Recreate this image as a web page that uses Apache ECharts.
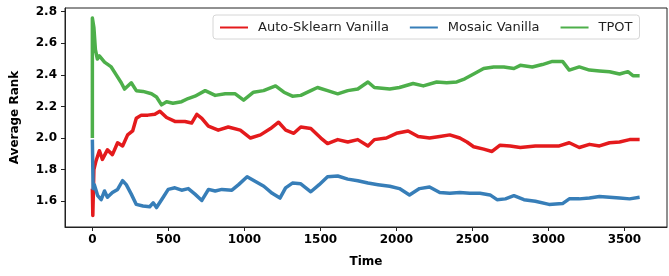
<!DOCTYPE html>
<html lang="en">
<head>
  <meta charset="UTF-8">
  <title>Average Rank over Time</title>
  <script src="https://cdn.jsdelivr.net/npm/echarts@6/dist/echarts.min.js"></script>
  <style>
    html, body { margin: 0; padding: 0; background: #fff; }
  </style>
</head>
<body>
  <div id="chart" style="width:669px;height:276px;"></div>
  <script type="text/javascript">
    var xTicks = [0, 500, 1000, 1500, 2000, 2500, 3000, 3500];
    var yTicks = [1.6, 1.8, 2.0, 2.2, 2.4, 2.6, 2.8];

    var seriesNames = ['Auto-Sklearn Vanilla', 'Mosaic Vanilla', 'TPOT'];

    // Auto-Sklearn Vanilla
    var askTime = [0,3,10,24,46,66,99,132,166,199,232,265,289,322,365,411,444,488,543,609,
      653,687,720,763,828,894,973,1040,1106,1172,1225,1272,1325,1371,1437,1503,1547,1614,1680,1746,
      1813,1855,1934,2000,2077,2143,2218,2285,2351,2417,2464,2508,2574,2629,2682,2748,2815,2914,3004,3071,
      3137,3203,3270,3336,3402,3468,3534,3600];
    var askRank = [1.68,1.51,1.80,1.855,1.92,1.865,1.925,1.895,1.97,1.95,2.02,2.045,2.125,2.145,2.145,2.15,2.17,2.13,2.105,2.105,
      2.095,2.15,2.125,2.075,2.05,2.07,2.05,2.0,2.02,2.06,2.10,2.05,2.03,2.07,2.06,2.0,1.965,1.99,1.975,1.99,
      1.95,1.99,2.0,2.03,2.045,2.01,2.0,2.01,2.02,2.0,1.975,1.945,1.93,1.915,1.955,1.95,1.94,1.95,1.95,1.95,
      1.97,1.94,1.96,1.95,1.97,1.975,1.99,1.99];

    // Mosaic Vanilla
    var mosTime = [0,5,13,35,58,80,99,132,166,199,223,256,289,333,377,400,422,466,499,543,
      587,631,675,720,764,808,852,918,962,1018,1073,1128,1183,1234,1271,1316,1371,1437,1492,1547,
      1614,1680,1746,1813,1879,1956,2020,2086,2152,2218,2285,2351,2417,2483,2550,2616,2662,2717,2773,2839,
      2914,3004,3093,3137,3203,3270,3336,3402,3468,3534,3600];
    var mosRank = [1.99,1.68,1.705,1.635,1.61,1.665,1.625,1.655,1.675,1.73,1.705,1.645,1.58,1.57,1.565,1.59,1.56,1.625,1.675,1.685,
      1.67,1.68,1.645,1.605,1.675,1.665,1.675,1.67,1.705,1.755,1.725,1.695,1.65,1.62,1.685,1.715,1.71,1.66,1.705,1.755,
      1.76,1.74,1.73,1.715,1.705,1.695,1.68,1.64,1.68,1.69,1.655,1.65,1.655,1.65,1.65,1.64,1.61,1.615,1.635,1.61,
      1.60,1.58,1.585,1.615,1.615,1.62,1.63,1.625,1.62,1.615,1.625];

    // TPOT
    var tpotTime = [0,0,10,20,33,46,80,124,157,190,212,256,289,333,389,422,455,488,530,587,
      630,675,742,808,874,940,995,1060,1126,1205,1260,1316,1371,1437,1481,1547,1614,1680,1746,1813,
      1855,1956,2020,2110,2177,2265,2331,2397,2450,2508,2574,2640,2707,2773,2815,2894,2960,3026,3093,3137,
      3203,3270,3336,3402,3468,3523,3556,3600];
    var tpotRank = [2.0,2.76,2.70,2.56,2.50,2.52,2.48,2.45,2.40,2.35,2.31,2.35,2.30,2.295,2.28,2.26,2.21,2.23,2.22,2.23,
      2.25,2.265,2.30,2.27,2.28,2.28,2.24,2.29,2.30,2.33,2.29,2.265,2.27,2.30,2.32,2.30,2.28,2.30,2.31,2.355,
      2.32,2.31,2.32,2.345,2.33,2.355,2.35,2.355,2.375,2.405,2.44,2.45,2.45,2.44,2.46,2.45,2.465,2.485,2.485,2.43,
      2.45,2.43,2.425,2.42,2.405,2.42,2.395,2.395];

    var colors = ['#e41a1c', '#377eb8', '#4daf4a'];

    function pairs(t, v) {
      var out = [];
      for (var i = 0; i < t.length; i++) out.push([t[i], v[i]]);
      return out;
    }

    var seriesData = [pairs(askTime, askRank), pairs(mosTime, mosRank), pairs(tpotTime, tpotRank)];

    var myChart = echarts.init(document.getElementById('chart'), null, { renderer: 'canvas' });

    var font = 'DejaVu Sans';

    var option = {
      animation: false,
      color: colors,
      textStyle: { fontFamily: font },
      grid: {
        left: 65, right: 2, top: 8, bottom: 49,
        show: true, borderColor: '#222', borderWidth: 1, backgroundColor: '#fff'
      },
      legend: {
        data: seriesNames,
        left: 213, top: 15,
        padding: [6, 7, 5, 7],
        itemWidth: 28, itemHeight: 2, itemGap: 21,
        backgroundColor: '#fff',
        borderColor: '#d6d6d6', borderWidth: 1, borderRadius: 3,
        icon: 'rect',
        textStyle: { fontFamily: font, fontSize: 13, color: '#222', padding: [0, 0, 0, 5] }
      },
      xAxis: {
        type: 'value',
        min: -180, max: 3780,
        name: 'Time',
        nameLocation: 'middle',
        nameGap: 29,
        nameTextStyle: { fontFamily: font, fontSize: 12, fontWeight: 'bold', color: '#000' },
        splitLine: { show: false },
        axisLine: { show: true, onZero: false, lineStyle: { color: '#222', width: 1 } },
        axisTick: { show: true, length: 4, lineStyle: { color: '#222' }, customValues: xTicks },
        axisLabel: {
          fontFamily: font, fontSize: 12, fontWeight: 'bold', color: '#000', margin: 7, customValues: xTicks,
          formatter: function (v) { return String(v); }
        }
      },
      yAxis: {
        type: 'value',
        min: 1.437, max: 2.823,
        name: 'Average Rank',
        nameLocation: 'middle',
        nameGap: 44,
        nameTextStyle: { fontFamily: font, fontSize: 12, fontWeight: 'bold', color: '#000' },
        splitLine: { show: false },
        axisLine: { show: true, onZero: false, lineStyle: { color: '#222', width: 1 } },
        axisTick: { show: true, length: 4, lineStyle: { color: '#222' }, customValues: yTicks },
        axisLabel: {
          fontFamily: font, fontSize: 12, fontWeight: 'bold', color: '#000', margin: 8, customValues: yTicks,
          formatter: function (v) { return v.toFixed(1); }
        }
      },
      series: seriesNames.map(function (name, i) {
        return {
          name: name,
          type: 'line',
          data: seriesData[i],
          showSymbol: false,
          lineStyle: { width: 3.5, color: colors[i], join: 'round' },
          itemStyle: { color: colors[i] }
        };
      })
    };

    myChart.setOption(option);
  </script>
</body>
</html>
